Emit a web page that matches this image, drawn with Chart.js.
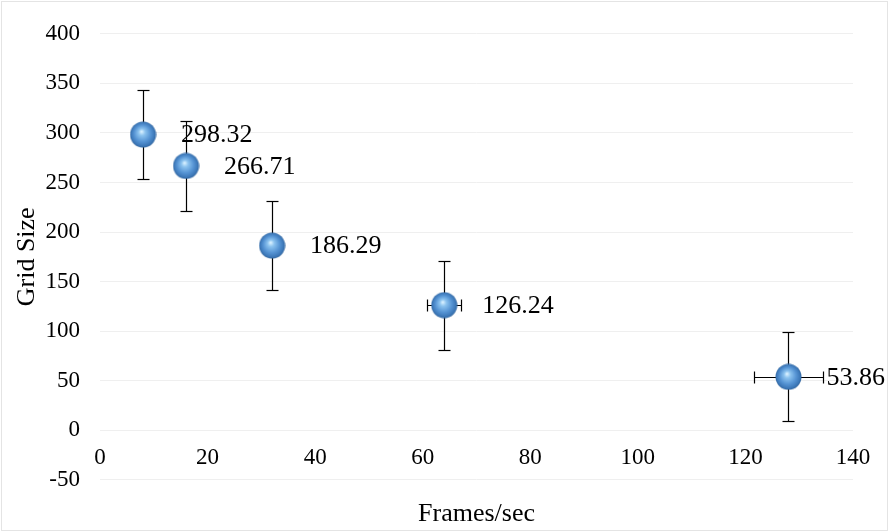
<!DOCTYPE html>
<html><head><meta charset="utf-8">
<script src="https://cdn.jsdelivr.net/npm/chart.js@4.4.1/dist/chart.umd.min.js"></script>
<style>html,body{margin:0;padding:0;background:#fff}#wrap{width:889px;height:532px;position:relative}</style>
</head><body><div id="wrap"><canvas id="c" width="889" height="532"></canvas></div>
<script>
// ---- data ----
const frameRates = [8, 16, 32, 64, 128];
const gridSizes = [298.32, 266.71, 186.29, 126.24, 53.86];
const gridSizeErr = [45, 45, 45, 45, 45];
const frameRateErr = [0.4, 0.8, 1.6, 3.2, 6.4];
const xTickRange = [0, 140, 20];   // min, max, step
const yTickRange = [-50, 400, 50]; // min, max, step
const xTitle = 'Frames/sec';
const yTitle = 'Grid Size';

const FONT = '"Liberation Serif", "Times New Roman", serif';
Chart.defaults.font.family = FONT;
Chart.defaults.color = '#000';

function makeSphere(d) {
  const c = document.createElement('canvas');
  c.width = c.height = d;
  const g = c.getContext('2d');
  const r = d / 2;
  const grad = g.createRadialGradient(r - 1.5, r - 3, 0.5, r, r, r);
  grad.addColorStop(0, '#d6efff');
  grad.addColorStop(0.22, '#8cc3ef');
  grad.addColorStop(0.6, '#5694d4');
  grad.addColorStop(0.88, '#3b76b6');
  grad.addColorStop(1, '#2a5b92');
  g.fillStyle = grad;
  g.beginPath(); g.arc(r, r, r - 0.5, 0, Math.PI * 2); g.fill();
  return c;
}
const sphere = makeSphere(27);

const frame = {
  id: 'frame',
  beforeDraw(chart) {
    const ctx = chart.ctx;
    ctx.save();
    ctx.fillStyle = '#fff';
    ctx.fillRect(0, 0, chart.width, chart.height);
    ctx.strokeStyle = '#e4e4e4';
    ctx.lineWidth = 1;
    ctx.strokeRect(1.5, 1.5, chart.width - 3, chart.height - 3);
    ctx.restore();
  }
};

const errBars = {
  id: 'errBars',
  beforeDatasetsDraw(chart) {
    const {ctx, scales: {x, y}} = chart;
    ctx.save();
    ctx.strokeStyle = '#000';
    ctx.lineWidth = 1.2;
    const cap = 6;
    const line = (a, b, c, d) => { ctx.beginPath(); ctx.moveTo(a, b); ctx.lineTo(c, d); ctx.stroke(); };
    frameRates.forEach((fx, i) => {
      const px = Math.round(x.getPixelForValue(fx)) + 0.5;
      const py = Math.round(y.getPixelForValue(gridSizes[i])) + 0.5;
      const yt = Math.round(y.getPixelForValue(gridSizes[i] + gridSizeErr[i])) + 0.5;
      const yb = Math.round(y.getPixelForValue(gridSizes[i] - gridSizeErr[i])) + 0.5;
      line(px, yt, px, yb);
      line(px - cap, yt, px + cap, yt);
      line(px - cap, yb, px + cap, yb);
      const xl = Math.round(x.getPixelForValue(fx - frameRateErr[i])) + 0.5;
      const xr = Math.round(x.getPixelForValue(fx + frameRateErr[i])) + 0.5;
      line(xl, py, xr, py);
      line(xl, py - cap, xl, py + cap);
      line(xr, py - cap, xr, py + cap);
    });
    ctx.restore();
  }
};

const valueLabels = {
  id: 'valueLabels',
  afterDatasetsDraw(chart) {
    const {ctx, scales: {x, y}} = chart;
    ctx.save();
    ctx.font = '26px ' + FONT;
    ctx.fillStyle = '#000';
    ctx.textAlign = 'left';
    ctx.textBaseline = 'middle';
    frameRates.forEach((fx, i) => {
      const px = x.getPixelForValue(fx);
      const py = y.getPixelForValue(gridSizes[i]);
      ctx.fillText(gridSizes[i].toFixed(2), px + 38, py + 1);
    });
    ctx.restore();
  }
};

new Chart(document.getElementById('c'), {
  type: 'scatter',
  data: {
    datasets: [{
      data: frameRates.map((fx, i) => ({x: fx, y: gridSizes[i]})),
      pointStyle: sphere,
      pointRadius: 14,
      pointHoverRadius: 14,
      showLine: false
    }]
  },
  options: {
    responsive: false,
    animation: false,
    devicePixelRatio: 1,
    layout: {padding: {top: 30, right: 36, left: 0, bottom: 0}},
    plugins: {
      legend: {display: false},
      tooltip: {enabled: false},
      title: {
        display: true,
        text: xTitle,
        position: 'bottom',
        fullSize: false,
        color: '#000',
        font: {family: FONT, size: 26, weight: 'normal'},
        padding: {top: 19, bottom: 2}
      }
    },
    scales: {
      x: {
        type: 'linear',
        position: {y: 0},
        min: xTickRange[0], max: xTickRange[1],
        ticks: {stepSize: xTickRange[2], color: '#000', font: {size: 23}, padding: 14, maxRotation: 0},
        grid: {display: false, drawTicks: false},
        border: {display: false},
        afterFit(s) { s.height = 0; }
      },
      y: {
        type: 'linear',
        position: 'left',
        min: yTickRange[0], max: yTickRange[1],
        ticks: {stepSize: yTickRange[2], color: '#000', font: {size: 23}, padding: 20},
        grid: {color: '#efefef', lineWidth: 1, drawTicks: false},
        border: {display: false},
        title: {display: true, text: yTitle, color: '#000', font: {size: 26}, padding: {top: 12, bottom: 0}},
        afterFit(s) { s.width = 100; }
      }
    }
  },
  plugins: [frame, errBars, valueLabels]
});
</script>
</body></html>
